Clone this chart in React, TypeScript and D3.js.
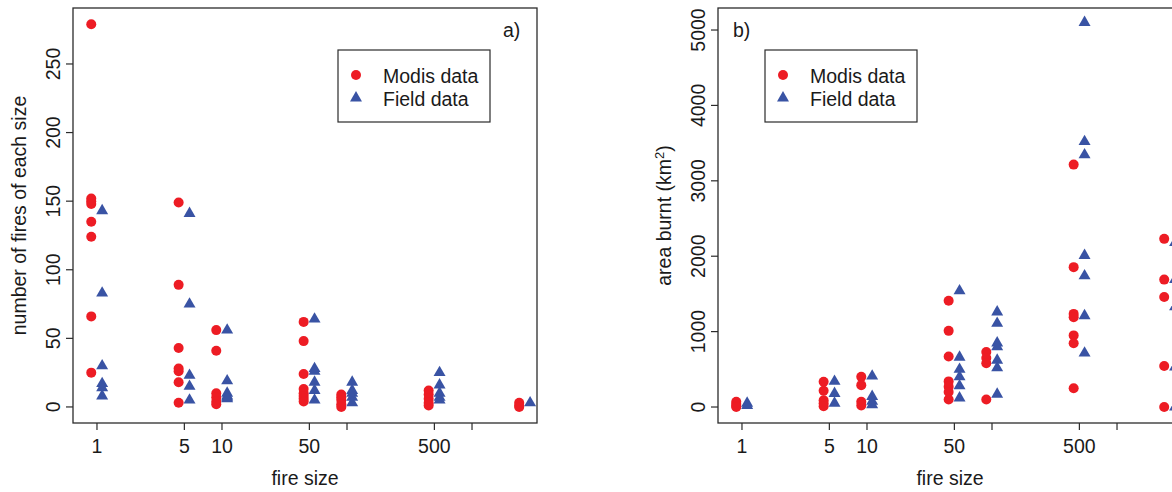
import React from 'react';
import * as d3 from 'd3';

// fire size classes (x positions on a log axis)
const sizeClasses = [1, 5, 10, 50, 100, 500, 2650];
const xTicks = [1, 5, 10, 50, 100, 500, 1000];
const xTickLabels = ['1', '5', '10', '50', '', '500', ''];

// panel a) number of fires of each size
const modisCounts = [
  [279, 152, 150, 148, 135, 124, 66, 25],
  [149, 89, 43, 28, 26, 18, 3],
  [56, 41, 10, 7, 4, 2],
  [62, 48, 24, 13, 10, 8, 6, 4],
  [9, 7, 5, 2, 0],
  [12, 9, 6, 3, 1],
  [3, 1, 0],
];
const fieldCounts = [
  [143, 83, 30, 17, 14, 8],
  [141, 75, 23, 15, 5],
  [56, 19, 10, 8, 7, 6],
  [64, 28, 26, 18, 12, 5],
  [18, 12, 10, 7, 3],
  [25, 16, 10, 7, 5],
  [3],
];
const countTicks = [0, 50, 100, 150, 200, 250];

// panel b) area burnt (km2)
const modisArea = [
  [70, 40, 15, 0],
  [336, 216, 90, 50, 10],
  [400, 290, 70, 20],
  [1410, 1010, 670, 340, 270, 200, 100],
  [730, 650, 580, 100],
  [3215, 1855, 1235, 1190, 950, 845, 250],
  [2230, 1690, 1460, 545, 0],
];
const fieldArea = [
  [50, 20],
  [340, 180, 50],
  [410, 140, 75, 30],
  [1540, 660, 500, 400, 280, 120],
  [1260, 1110, 850, 800, 620, 520, 170],
  [5100, 3520, 3345, 2010, 1740, 1210, 715],
  [2180, 1690, 1330, 530, 0],
];
const areaTicks = [0, 1000, 2000, 3000, 4000, 5000];

const RED = '#ED1C24';
const BLUE = '#3953A4';
const INK = '#2b2b2b';
const FONT = '"Liberation Sans", Arial, sans-serif';
const FS = 19.5;

// plot box of panel a; panel b is the same box shifted right
const box = { left: 73, right: 537, top: 8, bottom: 423 };
const panelShift = 645;

const triangle = d3.symbol().type(d3.symbolTriangle).size(62)();

type PanelProps = {
  dx: number;
  yDomain: [number, number];
  yTicks: number[];
  yTitle: React.ReactNode;
  tag: string;
  tagX: number;
  legendX: number;
  modis: number[][];
  field: number[][];
};

function Panel({ dx, yDomain, yTicks, yTitle, tag, tagX, legendX, modis, field }: PanelProps) {
  const left = box.left + dx;
  const right = box.right + dx;
  const x = d3.scaleLog().domain([0.643, 3310]).range([left, right]);
  const y = d3.scaleLinear().domain(yDomain).range([box.bottom, box.top]);
  const midY = (box.top + box.bottom) / 2;

  return (
    <g fontFamily={FONT} fontSize={FS} fill="#1a1a1a">
      <rect x={left} y={box.top} width={right - left} height={box.bottom - box.top}
        fill="none" stroke={INK} strokeWidth={1.3} />

      {/* y axis */}
      {yTicks.map((t) => (
        <g key={t}>
          <line x1={left - 7} x2={left} y1={y(t)} y2={y(t)} stroke={INK} strokeWidth={1.2} />
          <text transform={`translate(${left - 13},${y(t)}) rotate(-90)`} textAnchor="middle">{t}</text>
        </g>
      ))}
      <text transform={`translate(${left - 47},${midY}) rotate(-90)`} textAnchor="middle">{yTitle}</text>

      {/* x axis */}
      {xTicks.map((t, i) => (
        <g key={t}>
          <line x1={x(t)} x2={x(t)} y1={box.bottom} y2={box.bottom + 7} stroke={INK} strokeWidth={1.2} />
          <text x={x(t)} y={453} textAnchor="middle">{xTickLabels[i]}</text>
        </g>
      ))}
      <text x={(left + right) / 2} y={485} textAnchor="middle">fire size</text>

      {/* points: modis slightly left, field slightly right */}
      {modis.map((vals, i) => vals.map((v, j) => (
        <circle key={`m${i}-${j}`} cx={x(sizeClasses[i] * 0.9)} cy={y(v)} r={5} fill={RED} />
      )))}
      {field.map((vals, i) => vals.map((v, j) => (
        <path key={`f${i}-${j}`} d={triangle}
          transform={`translate(${x(sizeClasses[i] * 1.1)},${y(v)})`} fill={BLUE} />
      )))}

      <text x={tagX + dx} y={37}>{tag}</text>

      {/* legend */}
      <g transform={`translate(${legendX},0)`}>
        <rect x={0} y={50} width={152} height={72} fill="#fff" stroke={INK} strokeWidth={1.2} />
        <circle cx={18} cy={75} r={5} fill={RED} />
        <path d={triangle} transform="translate(18,98)" fill={BLUE} />
        <text x={45} y={83}>Modis data</text>
        <text x={45} y={106}>Field data</text>
      </g>
    </g>
  );
}

export default function App() {
  return (
    <div>
      <style>{'body{margin:0}'}</style>
      <svg width={1172} height={492} style={{ display: 'block', background: '#fff' }}>
        <Panel dx={0} yDomain={[-11.7, 290.8]} yTicks={countTicks}
          yTitle="number of fires of each size" tag="a)" tagX={503} legendX={338}
          modis={modisCounts} field={fieldCounts} />
        <Panel dx={panelShift} yDomain={[-212, 5292]} yTicks={areaTicks}
          yTitle={<>area burnt (km<tspan dy={-7} fontSize={13}>2</tspan><tspan dy={7}>)</tspan></>}
          tag="b)" tagX={88} legendX={765}
          modis={modisArea} field={fieldArea} />
      </svg>
    </div>
  );
}
